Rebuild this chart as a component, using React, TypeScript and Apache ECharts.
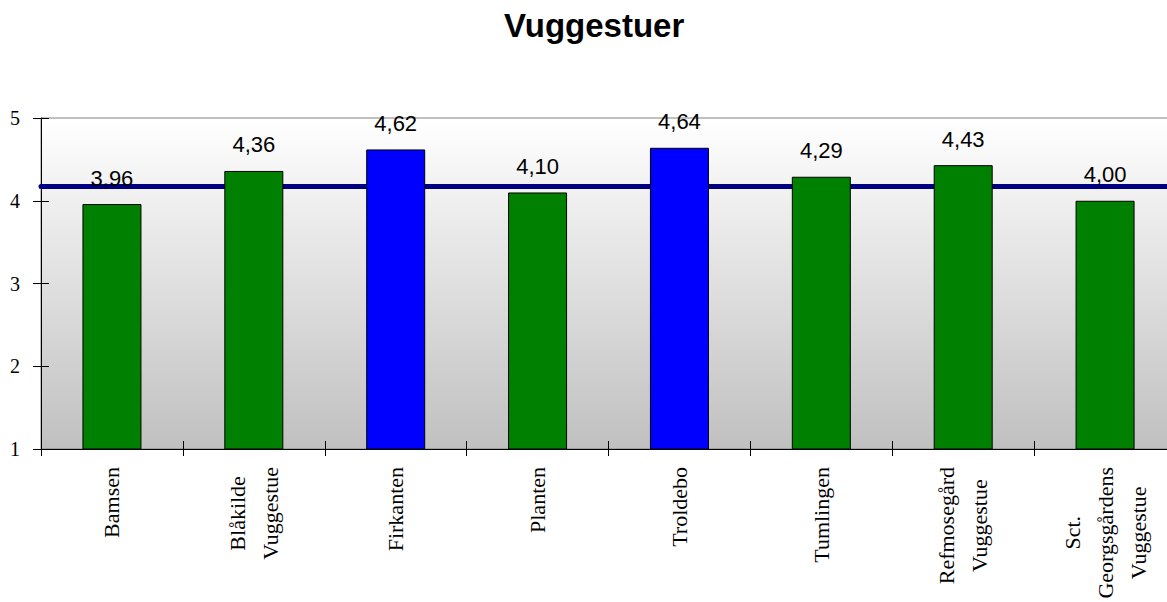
import React, { useEffect, useRef } from "react";
import * as echarts from "echarts";

const titleText = "Vuggestuer";
const categories = [
  "Bamsen",
  "Blåkilde\nVuggestue",
  "Firkanten",
  "Planten",
  "Troldebo",
  "Tumlingen",
  "Refmosegård\nVuggestue",
  "Sct.\nGeorgsgårdens\nVuggestue",
];
const values = [3.96, 4.36, 4.62, 4.1, 4.64, 4.29, 4.43, 4.0];
const highlighted = ["Firkanten", "Troldebo"];
const averageValue = 4.18;
const yTicks = [1, 2, 3, 4, 5];

const GREEN = "#008000";
const BLUE = "#0000ff";
const SERIF = "'Liberation Serif', 'Times New Roman', serif";
const SANS = "'Liberation Sans', Arial, sans-serif";

export default function App() {
  const ref = useRef<HTMLDivElement>(null);

  useEffect(() => {
    if (!ref.current) return;
    const chart = echarts.init(ref.current, undefined, { renderer: "svg" });

    const barData = values.map((v, i) => ({
      value: v,
      itemStyle: {
        color: highlighted.includes(categories[i]) ? BLUE : GREEN,
      },
    }));

    const yMin = yTicks[0];
    const yMax = yTicks[yTicks.length - 1];

    chart.setOption({
      animation: false,
      backgroundColor: "#ffffff",
      title: {
        text: titleText,
        left: 499,
        top: 4,
        textStyle: {
          fontFamily: SANS,
          fontWeight: "bold",
          fontSize: 33,
          color: "#000000",
        },
      },
      grid: {
        left: 41,
        top: 118,
        right: 24,
        bottom: 153,
        outerBoundsMode: "none",
        containLabel: false,
        show: true,
        borderColor: "#808080",
        borderWidth: 1,
        backgroundColor: new echarts.graphic.LinearGradient(0, 0, 0, 1, [
          { offset: 0, color: "#ffffff" },
          { offset: 1, color: "#c0c0c0" },
        ]),
      },
      xAxis: [
        {
          type: "category",
          data: categories,
          boundaryGap: true,
          axisLine: { show: true, lineStyle: { color: "#000000", width: 1 } },
          axisTick: {
            show: true,
            inside: false,
            length: 7,
            lineStyle: { color: "#000000" },
          },
          axisLabel: {
            interval: 0,
            rotate: 90,
            margin: 18,
            color: "#000000",
            fontFamily: SERIF,
            fontSize: 22,
            formatter: (v: string) =>
              v
                .split("\n")
                .map((l) => `{c|${l}}`)
                .join("\n"),
            rich: {
              c: {
                align: "center",
                fontFamily: SERIF,
                fontSize: 22,
                lineHeight: 33,
                color: "#000000",
              },
            },
          },
          splitLine: { show: false },
        },
        {
          type: "category",
          data: categories,
          position: "bottom",
          boundaryGap: true,
          axisLine: { show: false },
          axisTick: {
            show: true,
            inside: true,
            length: 8,
            lineStyle: { color: "#000000" },
          },
          axisLabel: { show: false },
          splitLine: { show: false },
        },
      ],
      yAxis: [
        {
          type: "value",
          min: yMin,
          max: yMax,
          interval: 1,
          axisLine: { show: true, lineStyle: { color: "#000000", width: 1 } },
          axisTick: {
            show: true,
            inside: false,
            length: 8,
            lineStyle: { color: "#000000" },
          },
          axisLabel: {
            margin: 21,
            color: "#000000",
            fontFamily: SERIF,
            fontSize: 20,
          },
          splitLine: { show: false },
        },
        {
          type: "value",
          min: yMin,
          max: yMax,
          interval: 1,
          position: "left",
          axisLine: { show: false },
          axisTick: {
            show: true,
            inside: true,
            length: 8,
            lineStyle: { color: "#000000" },
          },
          axisLabel: { show: false },
          splitLine: { show: false },
        },
      ],
      series: [
        {
          type: "bar",
          xAxisIndex: 0,
          yAxisIndex: 0,
          data: barData,
          barWidth: 59,
          itemStyle: { borderColor: "#000000", borderWidth: 1 },
          label: {
            show: true,
            position: "top",
            distance: 15,
            color: "#000000",
            fontFamily: SANS,
            fontSize: 22,
            formatter: (p: any) => Number(p.value).toFixed(2).replace(".", ","),
          },
          markLine: {
            silent: true,
            symbol: ["none", "none"],
            label: { show: false },
            lineStyle: { color: "#000080", width: 5, type: "solid", cap: "round" },
            data: [{ yAxis: averageValue }],
            z: 1,
          },
        },
      ],
    });

    return () => chart.dispose();
  }, []);

  return (
    <div
      style={{
        position: "absolute",
        left: 0,
        top: 0,
        width: 1167,
        height: 602,
        overflow: "hidden",
      }}
    >
      <div ref={ref} style={{ width: 1200, height: 602 }} />
    </div>
  );
}
